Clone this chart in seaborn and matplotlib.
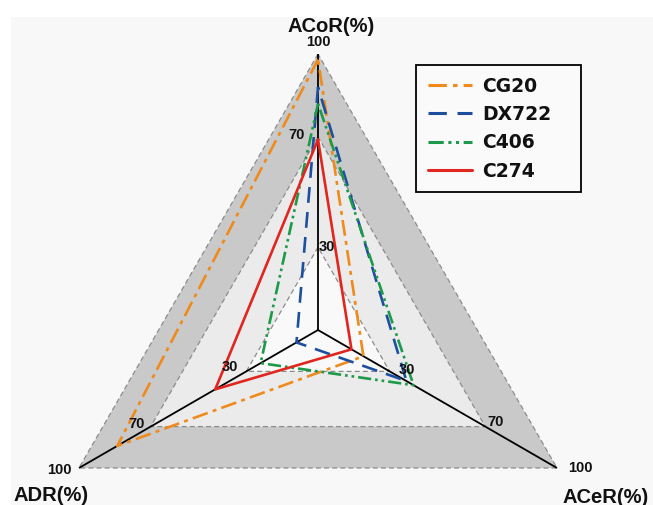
"""Triangular radar chart of ACoR / ACeR / ADR for four strains."""

import numpy as np
import pandas as pd
import seaborn as sns
from matplotlib import pyplot as plt
from matplotlib.patches import Rectangle

# axes of the radar, anticlockwise from the top
AXIS_NAMES = ["ACoR(%)", "ADR(%)", "ACeR(%)"]
AXIS_ANGLES_DEG = [90, 210, 330]

STRAINS = ["CG20", "DX722", "C406", "C274"]
ACOR = [98, 88, 82, 69]
ADR = [84, 9, 24, 43]
ACER = [19, 37, 40, 14]

RINGS = [30, 70, 100]

STRAIN_TO_COLOR = {
    "CG20": "#ef8a1c",
    "DX722": "#1d4f9e",
    "C406": "#1c9a4a",
    "C274": "#e0261f",
}
STRAIN_TO_DASHES = {
    "CG20": (6, 2, 1.5, 2),
    "DX722": (6, 3.5),
    "C406": (5, 1.5, 1, 1.5, 1, 1.5),
    "C274": "",
}
BAND_COLORS = {100: "#c9c9c9", 70: "#ebebeb", 30: "#f9f9f9"}

# pixel offsets of the ring labels, per axis
RING_LABEL_OFFSETS = {
    "ACoR(%)": {30: ((1, 0), "left"), 70: ((-13, 2), "right"), 100: ((0, 12), "center")},
    "ADR(%)": {30: ((-8, 4), "right"), 70: ((-6, 3), "right"), 100: ((-7, -2), "right")},
    "ACeR(%)": {30: ((9, 1), "left"), 70: ((2, 5), "left"), 100: ((11, 0), "left")},
}
TITLE_OFFSETS = {
    "ACoR(%)": ((13, 27), "center"),
    "ADR(%)": ((-28, -27), "center"),
    "ACeR(%)": ((5, -29), "left"),
}


def _main() -> None:
    sns.set_style("white")
    plt.rcParams["font.family"] = ["Liberation Sans", "DejaVu Sans"]
    plt.rcParams["font.weight"] = "bold"

    fig = plt.figure(figsize=(6.53, 5.05), dpi=100, facecolor="white")
    fig.patches.append(
        Rectangle((11 / 653, 0), 1, 1 - 17 / 505, transform=fig.transFigure,
                  facecolor="#f8f8f8", edgecolor="none", zorder=-10)
    )
    # centre of the radar at (318, 330) px, radius 276 px
    ax = fig.add_axes([42 / 653, (505 - 330 - 276) / 505, 552 / 653, 552 / 505],
                      projection="polar")
    ax.patch.set_alpha(0)

    theta = np.deg2rad(AXIS_ANGLES_DEG)
    theta_closed = np.append(theta, theta[0] + 2 * np.pi)

    # shaded bands and dashed ring edges
    for ring in sorted(RINGS, reverse=True):
        r = [ring] * len(theta_closed)
        ax.fill(theta_closed, r, color=BAND_COLORS[ring], zorder=1, lw=0)
        ax.plot(theta_closed, r, color="#8c8c8c", lw=0.9, ls=(0, (4, 2.5)), zorder=2)

    # black axis spokes
    for t in theta:
        ax.plot([t, t], [0, 100], color="black", lw=1.3, zorder=3)

    rows = []
    for i, strain in enumerate(STRAINS):
        vals = [ACOR[i], ADR[i], ACER[i]]
        vals.append(vals[0])
        for t, v in zip(theta_closed, vals):
            rows.append({"strain": strain, "theta": t, "value": v})
    df = pd.DataFrame(rows)

    sns.lineplot(
        data=df, x="theta", y="value", hue="strain", style="strain",
        hue_order=STRAINS, style_order=STRAINS,
        palette=STRAIN_TO_COLOR, dashes=STRAIN_TO_DASHES,
        sort=False, estimator=None, lw=1.9, ax=ax, zorder=4,
    )

    ax.set_ylim(0, 100)
    ax.set_xticks([])
    ax.set_yticks([])
    ax.grid(False)
    ax.spines["polar"].set_visible(False)
    ax.set_xlabel("")
    ax.set_ylabel("")

    for t, name in zip(theta, AXIS_NAMES):
        for ring in RINGS:
            (dx, dy), ha = RING_LABEL_OFFSETS[name][ring]
            ax.annotate(str(ring), xy=(t, ring), xytext=(dx, dy),
                        textcoords="offset pixels", ha=ha, va="center",
                        fontsize=10.5, fontweight="bold", color="#111111",
                        zorder=6, annotation_clip=False)
        (dx, dy), ha = TITLE_OFFSETS[name]
        ax.annotate(name, xy=(t, 100), xytext=(dx, dy), textcoords="offset pixels",
                    ha=ha, va="center", fontsize=14.5, fontweight="bold",
                    color="#111111", annotation_clip=False)

    handles, labels = ax.get_legend_handles_labels()
    leg = ax.legend(
        handles, labels, loc="upper left", mode="expand",
        bbox_to_anchor=(416 / 653, 1 - 191 / 505, 165 / 653, 126 / 505),
        bbox_transform=fig.transFigure,
        frameon=True, fancybox=False, framealpha=1,
        edgecolor="black", facecolor="#fafafa", handlelength=2.35,
        handletextpad=0.55, labelspacing=0.5, borderpad=0.62, borderaxespad=0,
        prop={"family": "DejaVu Sans", "weight": "bold", "size": 13.5},
    )
    leg.get_frame().set_linewidth(1.3)
    for line in leg.get_lines():
        line.set_linewidth(2.2)
    for text in leg.get_texts():
        text.set_color("#111111")

    plt.savefig("out.png", dpi=100)


if __name__ == "__main__":
    _main()
